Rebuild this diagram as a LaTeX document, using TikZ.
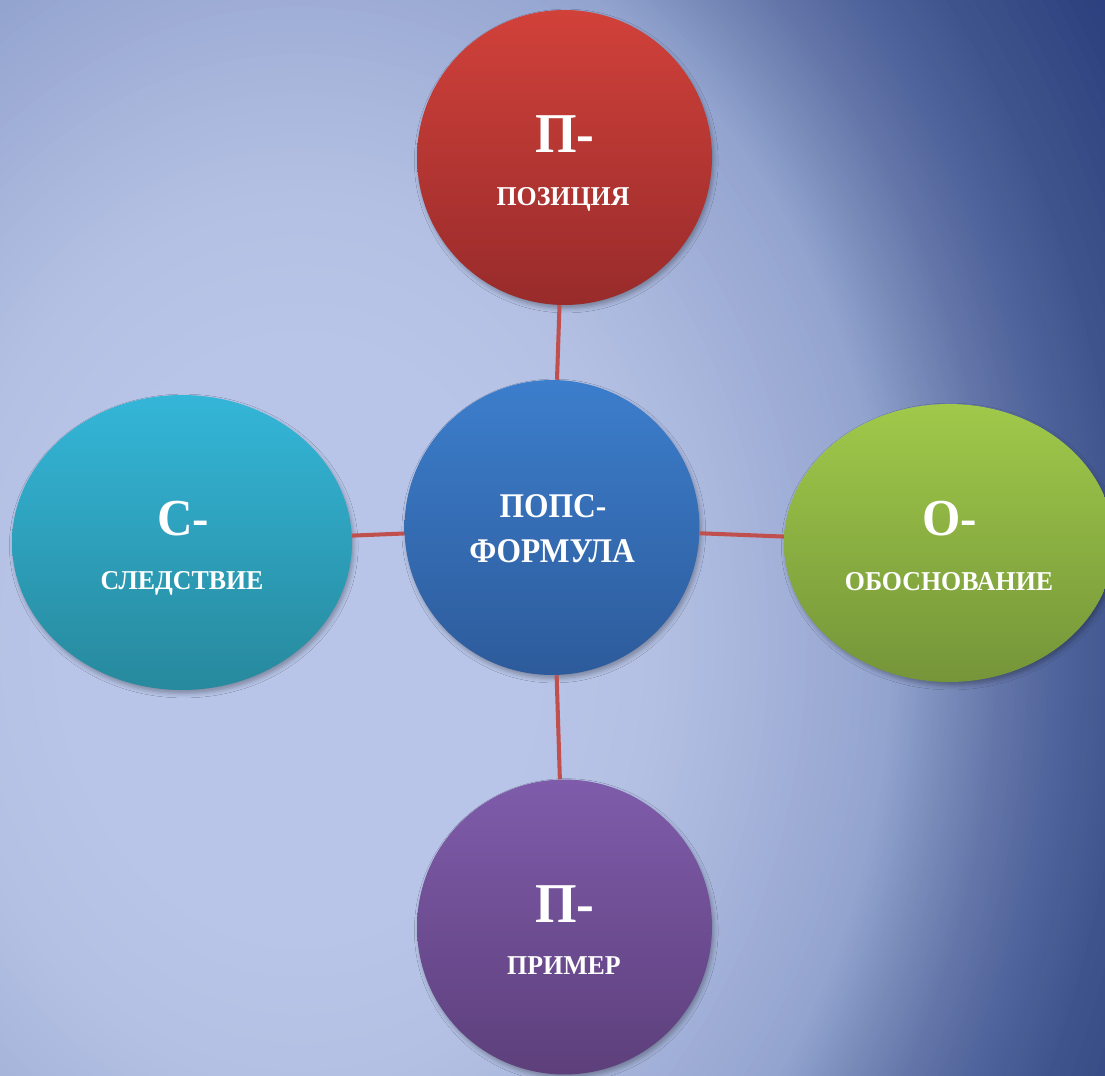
\documentclass[tikz,border=0pt]{standalone}
\usepackage{fontspec}
\setmainfont{Liberation Serif}
\newfontfamily\fa[FakeStretch=0.95]{Liberation Serif}
\newfontfamily\fb[FakeStretch=0.91]{Liberation Serif}
\usetikzlibrary{shapes.geometric,shadows.blur}

\definecolor{bgA}{HTML}{B8C5E8}
\definecolor{bgB}{HTML}{B3C0E3}
\definecolor{bgC}{HTML}{AAB7DD}
\definecolor{bgD}{HTML}{93A4CF}
\definecolor{bgE}{HTML}{7A8CBA}
\definecolor{bgF}{HTML}{6677AA}
\definecolor{bgG}{HTML}{4F649C}
\definecolor{bgH}{HTML}{40558D}
\definecolor{bgI}{HTML}{26397A}
\definecolor{lineRed}{HTML}{C0504D}
\definecolor{redT}{HTML}{D1413A}
\definecolor{redB}{HTML}{982B2B}
\definecolor{bluT}{HTML}{3C7ECC}
\definecolor{bluB}{HTML}{2D5B9B}
\definecolor{cyaT}{HTML}{34B6D8}
\definecolor{cyaB}{HTML}{27899D}
\definecolor{grnT}{HTML}{A0C94A}
\definecolor{grnB}{HTML}{759539}
\definecolor{purT}{HTML}{7F5CAB}
\definecolor{purB}{HTML}{5D3F7B}

\tikzset{
  shad/.style={blur shadow={shadow xshift=1pt, shadow yshift=-2pt,
      shadow blur radius=2.5pt, shadow opacity=30}},
  circ/.style={circle, minimum size=5.9cm, inner sep=0pt, shad},
  ell/.style={ellipse, inner sep=0pt, shad},
  conn/.style={draw=lineRed, line width=2.3pt},
  ttl/.style={text=white, anchor=base, inner sep=0pt,
      font=\fa\bfseries\fontsize{32}{32}\selectfont},
  ttlm/.style={text=white, anchor=base, inner sep=0pt,
      font=\fa\bfseries\fontsize{29.5}{29.5}\selectfont},
  ttlc/.style={text=white, anchor=base, inner sep=0pt,
      font=\fb\bfseries\fontsize{19.7}{19.7}\selectfont},
  sub/.style={text=white, anchor=base, inner sep=0pt,
      font=\fa\bfseries\fontsize{15.5}{15.5}\selectfont},
}

\begin{document}
\begin{tikzpicture}[x=0.02cm, y=-0.02cm]
\useasboundingbox (0,0) rectangle (1105,1075);
\begin{scope}
  \clip (0,0) rectangle (1105,1075);
  \fill[bgI] (0,0) rectangle (1105,1075);
  \foreach \ra/\rb/\ca/\cb in {1.25/1.03/bgI/bgH, 1.03/0.95/bgH/bgG,
      0.95/0.87/bgG/bgF, 0.87/0.81/bgF/bgE, 0.81/0.74/bgE/bgD,
      0.74/0.55/bgD/bgC, 0.55/0.45/bgC/bgB, 0.45/0.3/bgB/bgA} {
    \foreach \k in {0,...,15} {
      \pgfmathsetmacro\r{\ra+(\rb-\ra)*\k/16}
      \pgfmathtruncatemacro\p{100*\k/16}
      \fill[\cb!\p!\ca] (300,640) ellipse [x radius=800*\r, y radius=1000*\r];
    }
  }
\end{scope}

\node[circ, top color=redT, bottom color=redB] (top) at (564.5,157.5) {};
\node[circ, top color=bluT, bottom color=bluB] (cen) at (552,527.5) {};
\node[ell, minimum width=6.8cm, minimum height=5.9cm,
      top color=cyaT, bottom color=cyaB] (lft) at (182,542.5) {};
\node[ell, minimum width=6.6cm, minimum height=5.56cm,
      top color=grnT, bottom color=grnB] (rgt) at (949,543) {};
\node[circ, top color=purT, bottom color=purB] (bot) at (564.5,927) {};

\draw[conn] (cen) -- (top);
\draw[conn] (cen) -- (bot);
\draw[conn] (cen) -- (lft);
\draw[conn] (cen) -- (rgt);

\node[ttl] (topA) at (565,152) {П-};
\node[sub] (topB) at (563,205) {ПОЗИЦИЯ};
\node[ttlc] (cenA) at (553,517) {ПОПС-};
\node[ttlc] (cenB) at (552,562) {ФОРМУЛА};
\node[ttlm] (lftA) at (183,535) {С-};
\node[sub] (lftB) at (182,589) {СЛЕДСТВИЕ};
\node[ttlm] (rgtA) at (950,535) {О-};
\node[sub] (rgtB) at (949,590) {ОБОСНОВАНИЕ};
\node[ttl] (botA) at (565,922) {П-};
\node[sub] (botB) at (564,974) {ПРИМЕР};
\end{tikzpicture}
\end{document}
